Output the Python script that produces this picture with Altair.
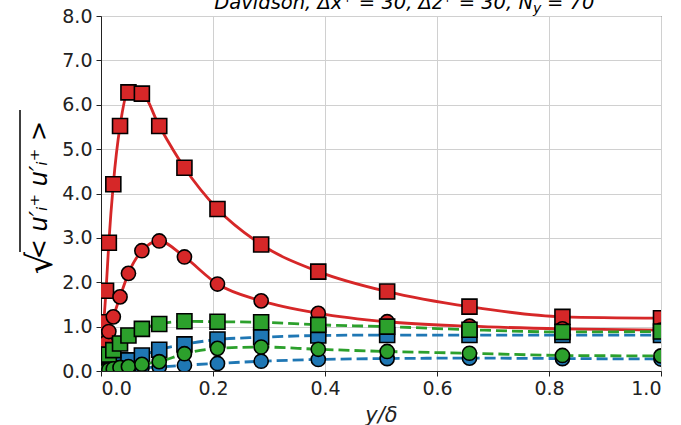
import altair as alt
import pandas as pd

# wall-normal positions of the plotted points
y_delta = [0.0, 0.002, 0.005, 0.009, 0.014, 0.022, 0.034, 0.049, 0.073, 0.104,
           0.149, 0.208, 0.286, 0.388, 0.511, 0.658, 0.824, 1.0]

# series values
u_sq = [0.0, 0.5, 1.1, 1.81, 2.89, 4.21, 5.52, 6.28, 6.25, 5.52,
        4.58, 3.65, 2.85, 2.24, 1.79, 1.45, 1.22, 1.19]
u_ci = [0.0, 0.15, 0.38, 0.64, 0.89, 1.22, 1.67, 2.2, 2.71, 2.93,
        2.57, 1.96, 1.58, 1.30, 1.11, 1.01, 0.95, 0.92]
v_sq = [0.0, 0.01, 0.02, 0.04, 0.07, 0.11, 0.17, 0.24, 0.35, 0.48,
        0.60, 0.71, 0.76, 0.80, 0.81, 0.81, 0.81, 0.81]
v_ci = [0.0, 0.0, 0.01, 0.01, 0.02, 0.03, 0.04, 0.05, 0.07, 0.09,
        0.13, 0.17, 0.22, 0.26, 0.28, 0.29, 0.28, 0.27]
w_sq = [0.0, 0.1, 0.2, 0.3, 0.37, 0.47, 0.62, 0.8, 0.95, 1.06,
        1.12, 1.11, 1.10, 1.04, 1.0, 0.93, 0.88, 0.89]
w_ci = [0.0, 0.005, 0.01, 0.02, 0.03, 0.05, 0.08, 0.10, 0.15, 0.21,
        0.39, 0.51, 0.54, 0.49, 0.44, 0.40, 0.35, 0.34]

x_ticks = [0.0, 0.2, 0.4, 0.6, 0.8, 1.0]
y_ticks = [0.0, 1.0, 2.0, 3.0, 4.0, 5.0, 6.0, 7.0, 8.0]

title_main = ["Davidson, Δx⁺ = 30, Δz⁺ = 30, N"]
title_sub = ["y"]
title_end = ["= 70"]
ylabel_body = ["< u′ᵢ⁺ u′ᵢ⁺ >"]
ylabel_root = ["√"]

RED, BLUE, GREEN = "#d62728", "#1f77b4", "#2ca02c"
series = [
    (u_sq, RED, "square", None),
    (u_ci, RED, "circle", None),
    (v_sq, BLUE, "square", [11, 5]),
    (v_ci, BLUE, "circle", [11, 5]),
    (w_sq, GREEN, "square", [11, 5]),
    (w_ci, GREEN, "circle", [11, 5]),
]

x_enc = alt.X("x:Q", scale=alt.Scale(domain=[0, 1], nice=False),
              axis=alt.Axis(values=x_ticks, format=".1f", title="y/δ",
                            titleFontStyle="italic", titleFontWeight="normal",
                            titleFontSize=21, titlePadding=6))
y_enc = alt.Y("y:Q", scale=alt.Scale(domain=[0, 8], nice=False),
              axis=alt.Axis(values=y_ticks, format=".1f", title=None))

layers = []
for vals, color, shape, dash in series:
    df = pd.DataFrame({"x": y_delta, "y": vals})
    base = alt.Chart(df)
    lkw = dict(color=color, strokeWidth=2.8, interpolate="monotone", clip=True)
    if dash:
        lkw["strokeDash"] = dash
    layers.append(base.mark_line(**lkw).encode(x=x_enc, y=y_enc))
    size = 225 if shape == "square" else 200
    layers.append(base.mark_point(shape=shape, filled=True, fill=color,
                                  stroke="black", strokeWidth=1.6, size=size,
                                  opacity=1, clip=True).encode(x=x_enc, y=y_enc))

font = "DejaVu Sans"
t1 = alt.Chart(pd.DataFrame({"t": title_main})).mark_text(
    align="right", baseline="alphabetic", fontSize=19.5, fontStyle="italic",
    font=font, color="black").encode(x=alt.value(432), y=alt.value(-7), text="t:N")
t2 = alt.Chart(pd.DataFrame({"t": title_sub})).mark_text(
    align="left", baseline="alphabetic", fontSize=14, fontStyle="italic",
    font=font, color="black").encode(x=alt.value(432), y=alt.value(-3), text="t:N")
t3 = alt.Chart(pd.DataFrame({"t": title_end})).mark_text(
    align="left", baseline="alphabetic", fontSize=19.5, fontStyle="italic",
    font=font, color="black").encode(x=alt.value(446), y=alt.value(-7), text="t:N")

yl = alt.Chart(pd.DataFrame({"t": ylabel_body})).mark_text(
    align="center", baseline="alphabetic", angle=270, fontSize=24, fontStyle="italic",
    font=font, color="black").encode(x=alt.value(-54), y=alt.value(174), text="t:N")
yr = alt.Chart(pd.DataFrame({"t": ylabel_root})).mark_text(
    align="center", baseline="alphabetic", angle=270, fontSize=35,
    font=font, color="black").encode(x=alt.value(-49), y=alt.value(247), text="t:N")
yo = alt.Chart(pd.DataFrame({"t": ylabel_root})).mark_rule(
    color="black", strokeWidth=1.5).encode(x=alt.value(-81), y=alt.value(94), y2=alt.value(236))

chart = alt.layer(*layers, t1, t2, t3, yl, yr, yo).properties(
    width=560, height=355,
    padding={"left": 101, "top": 16, "right": 20, "bottom": 54},
    autosize=alt.AutoSizeParams(type="none"),
).configure_view(stroke="#222", strokeWidth=1).configure_axis(
    grid=True, gridColor="#d0d0d0", gridWidth=1,
    domainColor="#222", tickColor="#222", tickSize=5,
    labelFontSize=19, labelFont=font, labelColor="#222", labelPadding=3,
    titleFont=font, titleColor="#222",
).configure_axisY(labelPadding=4)

chart.save("out.html", embed_options={"renderer": "svg", "actions": False})
